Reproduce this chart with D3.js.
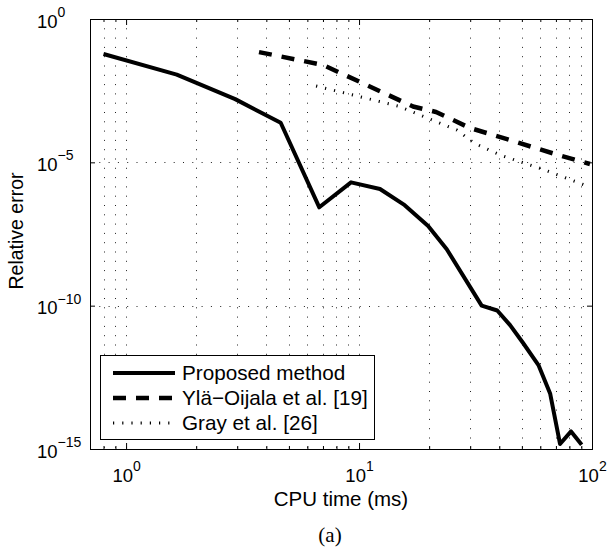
<!DOCTYPE html>
<html>
<head>
<meta charset="utf-8">
<script src="https://cdn.jsdelivr.net/npm/d3@7"></script>
<style>
  body { margin: 0; background: #fff; }
  svg { display: block; font-family: "Liberation Sans", Arial, Helvetica, sans-serif; }
</style>
</head>
<body>
<svg width="607" height="551"></svg>
<script>
// values (CPU time in ms, relative error)
const proposedTime = [0.80, 1.65, 2.94, 4.61, 6.75, 9.24, 12.3, 15.7, 19.8, 23.8, 33.6, 39.2, 44.5, 50.7, 58.9, 66.1, 72.9, 81.3, 90.3];
const proposedError = [6.0e-2, 1.15e-2, 1.6e-3, 2.4e-4, 2.7e-7, 2.0e-6, 1.17e-6, 3.2e-7, 6.0e-8, 9.3e-9, 1.0e-10, 6.8e-11, 2.1e-11, 4.9e-12, 8.5e-13, 8.7e-14, 1.5e-15, 4.1e-15, 1.4e-15];

const ylaTime = [3.72, 7.0, 17.05, 21.4, 29.9, 46.7, 56.9, 72.9, 98];
const ylaError = [7.0e-2, 2.5e-2, 8.9e-4, 5.7e-4, 1.58e-4, 5.3e-5, 3.2e-5, 1.73e-5, 8.75e-6];

const grayTime = [6.54, 14.7, 26.3, 31.2, 40.3, 62.8, 98];
const grayError = [4.6e-3, 9.2e-4, 1.34e-4, 4.7e-5, 1.8e-5, 5.4e-6, 1.38e-6];

const seriesNames = ["Proposed method", "Ylä\u2212Oijala et al. [19]", "Gray et al. [26]"];

const xMajorTicks = [1, 10, 100];
const xMinorTicks = [0.8, 0.9, 2, 3, 4, 5, 6, 7, 8, 9, 20, 30, 40, 50, 60, 70, 80, 90];
const xTickExponents = ["0", "1", "2"];
const yMajorTicks = [1, 1e-5, 1e-10, 1e-15];
const yTickExponents = ["0", "\u22125", "\u221210", "\u221215"];

const svg = d3.select("svg");
svg.append("rect").attr("width", 607).attr("height", 551).attr("fill", "#fff");

const margin = { top: 19, right: 15, bottom: 102, left: 90 };
const width = +svg.attr("width") - margin.left - margin.right;
const height = +svg.attr("height") - margin.top - margin.bottom;
const g = svg
  .append("g")
  .attr("transform", `translate(${margin.left},${margin.top})`);

const x = d3.scaleLog().domain([0.7, 100]).range([0, width]);
const y = d3.scaleLog().domain([1e-15, 1]).range([height, 0]);

svg.append("clipPath")
  .attr("id", "plot-clip")
  .append("rect")
  .attr("width", width)
  .attr("height", height);

// dotted grid
const gridStyle = (sel) =>
  sel.attr("stroke", "#222")
    .attr("stroke-width", 1)
    .attr("stroke-dasharray", "1,8.3")
    .attr("fill", "none");

g.append("g")
  .selectAll("line")
  .data(xMinorTicks.concat([1, 10]))
  .join("line")
  .attr("x1", (d) => Math.round(x(d)) + 0.5)
  .attr("x2", (d) => Math.round(x(d)) + 0.5)
  .attr("y1", 0)
  .attr("y2", height)
  .call(gridStyle);

g.append("g")
  .selectAll("line")
  .data([1e-5, 1e-10])
  .join("line")
  .attr("x1", 0)
  .attr("x2", width)
  .attr("y1", (d) => Math.round(y(d)) + 0.5)
  .attr("y2", (d) => Math.round(y(d)) + 0.5)
  .call(gridStyle);

// tick labels of the form 10^n
function powerLabel(text, exponents, ticks) {
  text.each(function (d) {
    const t = d3.select(this);
    const exp = exponents[ticks.indexOf(d)];
    t.text(null);
    t.append("tspan").text("10");
    t.append("tspan").attr("dy", -10.5).attr("font-size", 14).text(exp);
  });
}

function styleAxis(sel) {
  sel.select(".domain").remove();
  sel.selectAll(".tick line").attr("stroke", "#000");
  sel.attr("font-family", null).attr("font-size", 18.5);
}

g.append("g")
  .attr("transform", `translate(0,${height})`)
  .call(d3.axisBottom(x).tickValues(xMinorTicks).tickSize(-3).tickFormat(""))
  .call(styleAxis);
g.append("g")
  .call(d3.axisTop(x).tickValues(xMinorTicks).tickSize(-3).tickFormat(""))
  .call(styleAxis);
g.append("g")
  .call(d3.axisTop(x).tickValues(xMajorTicks).tickSize(-6).tickFormat(""))
  .call(styleAxis);

const xAxis = g.append("g")
  .attr("transform", `translate(0,${height})`)
  .call(d3.axisBottom(x).tickValues(xMajorTicks).tickSize(-6).tickPadding(0))
  .call(styleAxis);
xAxis.selectAll(".tick text")
  .attr("dy", null)
  .attr("y", 32.5)
  .attr("fill", "#000")
  .call(powerLabel, xTickExponents, xMajorTicks);

const yAxis = g.append("g")
  .call(d3.axisLeft(y).tickValues(yMajorTicks).tickSize(-5))
  .call(styleAxis);
yAxis.selectAll(".tick text")
  .attr("dy", null)
  .attr("x", -53)
  .attr("y", 8)
  .attr("text-anchor", "start")
  .attr("fill", "#000")
  .call(powerLabel, yTickExponents, yMajorTicks);

g.append("g")
  .attr("transform", `translate(${width},0)`)
  .call(d3.axisRight(y).tickValues(yMajorTicks).tickSize(-5).tickFormat(""))
  .call(styleAxis);

// series
const series = [
  { time: proposedTime, error: proposedError, width: 4, dash: null },
  { time: ylaTime, error: ylaError, width: 4.5, dash: "13,10" },
  { time: grayTime, error: grayError, width: 3, dash: "1.2,8" },
];

const line = d3
  .line()
  .x((d) => x(d[0]))
  .y((d) => y(d[1]));

g.append("g")
  .attr("clip-path", "url(#plot-clip)")
  .selectAll("path")
  .data(series)
  .join("path")
  .attr("fill", "none")
  .attr("stroke", "#000")
  .attr("stroke-width", (d) => d.width)
  .attr("stroke-dasharray", (d) => d.dash)
  .attr("stroke-linejoin", "round")
  .attr("d", (d) => line(d.time.map((t, i) => [t, d.error[i]])));

// box
g.append("rect")
  .attr("x", 0.5)
  .attr("y", 0.5)
  .attr("width", width)
  .attr("height", height)
  .attr("fill", "none")
  .attr("stroke", "#000")
  .attr("stroke-width", 1);

// legend
const legend = g.append("g").attr("transform", "translate(10,336)");
legend.append("rect")
  .attr("x", 0.5)
  .attr("y", 0.5)
  .attr("width", 274)
  .attr("height", 84)
  .attr("fill", "#fff")
  .attr("stroke", "#000");

const item = legend
  .selectAll(".item")
  .data(series)
  .join("g")
  .attr("class", "item")
  .attr("transform", (d, i) => `translate(0,${18 + i * 25})`);

item.append("line")
  .attr("x1", 13)
  .attr("x2", 75)
  .attr("stroke", "#000")
  .attr("stroke-width", (d) => d.width)
  .attr("stroke-dasharray", (d) => d.dash);

item.append("text")
  .attr("x", 82)
  .attr("y", 7)
  .attr("font-size", 20.7)
  .text((d, i) => seriesNames[i]);

// axis titles
svg.append("text")
  .attr("x", margin.left + width / 2)
  .attr("y", 506)
  .attr("text-anchor", "middle")
  .attr("font-size", 20.5)
  .text("CPU time (ms)");

svg.append("text")
  .attr("transform", `translate(23,${margin.top + height / 2 - 3}) rotate(-90)`)
  .attr("text-anchor", "middle")
  .attr("font-size", 19.5)
  .text("Relative error");

svg.append("text")
  .attr("x", 330)
  .attr("y", 542)
  .attr("text-anchor", "middle")
  .attr("font-family", "'Liberation Serif', 'Times New Roman', serif")
  .attr("font-size", 21)
  .text("(a)");
</script>
</body>
</html>
